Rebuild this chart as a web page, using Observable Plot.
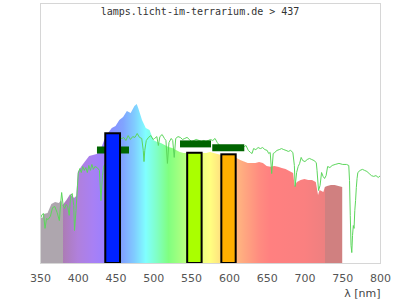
<!DOCTYPE html>
<html><head><meta charset="utf-8">
<script src="https://cdn.jsdelivr.net/npm/d3@7"></script>
<script src="https://cdn.jsdelivr.net/npm/@observablehq/plot@0.6"></script>
<style>
html,body{margin:0;padding:0;background:#fff;}
#wrap{position:relative;width:400px;height:300px;overflow:hidden;}
#title{position:absolute;top:6px;left:0;width:400px;text-align:center;font-family:"DejaVu Sans Mono",monospace;font-size:10px;line-height:12px;color:#333;z-index:2;}
</style></head><body>
<div id="wrap"><div id="title">lamps.licht-im-terrarium.de &gt; 437</div></div>
<script>
// Lamp spectrum (relative intensity, 0-100)
const specNm = [350,353,355,360,365,370,375,378,380,385,390,395,398,400,405,410,415,420,425,430,435,440,445,450,455,460,465,470,475,478,480,485,490,495,500,505,510,515,520,525,530,535,540,545,550,555,560,565,570,575,580,585,590,595,600,605,610,615,620,625,630,635,640,645,650,655,660,665,670,675,680,685,687,690,695,700,705,710,715,718,720,725,727,730,735,740,745,750];
const specVal = [17.3,17.3,18.8,19.2,22.7,23.5,23.1,24.2,22.3,24.2,26.5,25.0,25.8,35.0,37.3,39.2,41.2,41.5,41.9,43.5,47.3,50.0,51.9,52.7,55.0,56.2,58.5,57.7,60.4,61.2,59.6,55.0,51.9,51.2,47.3,46.5,46.2,45.4,44.6,44.2,43.5,42.7,42.3,42.3,42.3,42.3,42.3,42.3,42.3,42.7,42.3,41.9,41.5,41.2,40.8,40.8,40.4,39.6,39.0,38.5,38.5,38.5,38.8,38.5,37.3,37.0,37.3,37.0,36.5,36.2,35.4,34.6,29.6,31.2,31.9,32.3,31.9,31.9,31.2,26.2,28.1,27.3,29.2,29.6,30.0,30.0,29.6,29.2];

// Sunlight reference spectrum (green line)
const sunNm = [350,352,354,356,358,360,363,366,369,372,375,377,378,380,382,384,386,388,390,392,394,395,397,399,400,402,404,406,408,410,412,414,416,418,420,422,425,428,430,432,434,436,440,445,450,455,458,460,463,466,469,472,475,478,481,484,486,487,488,490,493,496,499,501,504,506,508,511,514,516,518,520,523,525,527,529,532,535,538,541,544,547,550,553,556,560,563,566,569,572,575,578,581,584,587,590,600,610,620,622,625,628,630,632,635,638,641,644,647,650,652,654,656,658,660,663,666,669,672,675,678,681,684,686,687,689,691,693,695,697,700,703,706,709,712,715,716,718,720,722,724,726,728,730,733,736,740,745,750,755,758,759,760,761,762,763,764,765,766,767,768,769,770,773,776,779,782,785,788,791,794,797,800];
const sunVal = [17.3,18.8,19.2,13.5,17.3,16.9,18.1,21.5,21.9,19.6,16.5,24.2,27.3,22.3,21.2,22.7,21.9,18.5,26.2,26.9,22.3,12.7,20.4,30.0,34.6,36.5,35.0,37.3,35.8,36.9,35.0,37.7,35.8,38.1,36.2,37.3,36.9,35.8,24.2,33.8,37.7,38.1,43.5,45.4,47.3,48.1,48.1,48.5,47.3,49.2,47.7,48.8,48.5,50.0,48.5,48.1,43.5,39.2,43.5,47.3,48.5,49.2,47.7,48.1,48.8,45.4,48.8,49.6,48.1,47.3,38.5,46.5,48.1,47.3,40.8,48.1,48.8,48.5,47.7,48.1,48.5,47.7,46.9,47.3,47.7,47.3,46.9,47.3,46.9,47.3,47.7,47.3,48.1,46.5,45.4,45.0,44.6,44.2,45.0,45.4,43.5,42.7,42.3,44.2,43.8,44.6,44.2,44.6,43.8,43.5,42.3,42.7,34.6,42.3,42.7,43.5,43.8,44.2,43.8,43.5,43.1,43.5,42.7,37.7,29.6,35.0,37.3,38.5,40.8,39.6,39.2,40.0,40.4,40.0,39.6,38.8,35.8,28.1,30.0,35.0,33.5,32.7,33.8,37.3,36.9,37.7,38.1,38.5,38.1,38.1,37.7,31.9,18.5,6.9,4.2,10.8,14.6,13.5,20.4,24.2,29.2,32.7,35.0,35.8,36.2,35.8,35.4,34.6,33.8,33.5,33.8,33.1,33.8];

// LED bars
const lampX1 = [436.4, 544.8, 590];
const lampX2 = [455.9, 563.9, 609];
const lampVal = [49.9, 42.4, 41.8];
const lampColors = ["#0022ff", "#aaff00", "#ffb000"];

// Range markers (dark green)
const rangeX1 = [425.4, 535.3, 578];
const rangeX2 = [467.8, 576.3, 620.4];
const rangeVal = [43.7, 46.0, 44.5];

// Colour of the spectrum by wavelength
const gradNm = [350, 379.9, 380, 400, 420, 435, 445, 460, 475, 490, 505, 520, 535, 550, 565, 575, 590, 605, 620, 640, 655, 700, 726.9, 727, 751];
const gradColors = ["#aea6ae","#aea6ae","#ac7cb4","#b080dc","#a880f4","#9c80ff","#8890ff","#80a4ff","#80ccff","#80ffff","#80ffc4","#80ff80","#a4ff80","#c8ff80","#eeff80","#ffff80","#ffe080","#ffc080","#ffa880","#ff8c80","#ff8080","#fa8080","#ee8080","#d08080","#d08080"];

const xTicks = [350,400,450,500,550,600,650,700,750,800];

const spectrum = specNm.map((n,i)=>({nm:n, v:specVal[i]}));
const sun = sunNm.map((n,i)=>({nm:n, v:sunVal[i]}));
const lamps = lampX1.map((a,i)=>({x1:a, x2:lampX2[i], v:lampVal[i], color:lampColors[i]}));
const ranges = rangeX1.map((a,i)=>({x1:a, x2:rangeX2[i], v:rangeVal[i]}));

const chart = Plot.plot({
  width: 400, height: 300,
  marginLeft: 40, marginRight: 20, marginTop: 3, marginBottom: 37,
  style: {fontFamily: "DejaVu Sans", fontSize: "11px", color: "#555", background: "transparent"},
  x: {domain: [350, 800], ticks: xTicks, tickSize: 0, tickPadding: 11, label: null},
  y: {domain: [0, 100], axis: null},
  color: {type: "identity"},
  marks: [
    Plot.areaY(spectrum, {x: "nm", y: "v", fill: "url(#specGrad)"}),
    Plot.line(sun, {x: "nm", y: "v", stroke: "#5cd65c", strokeWidth: 1}),
    Plot.ruleY(ranges, {x1: "x1", x2: "x2", y: "v", stroke: "#006400", strokeWidth: 7}),
    Plot.rectY(lamps, {x1: "x1", x2: "x2", y: "v", fill: "color", stroke: "#000", strokeWidth: 2}),
    Plot.frame({stroke: "#d6d6d6"}),
    Plot.text(["λ [nm]"], {text: d => d, frameAnchor: "bottom-right", dy: 33, textAnchor: "end", fill: "#444", fontSize: 11})
  ]
});

const xs = chart.scale("x");
const ns = "http://www.w3.org/2000/svg";
const defs = document.createElementNS(ns, "defs");
const grad = document.createElementNS(ns, "linearGradient");
grad.setAttribute("id", "specGrad");
grad.setAttribute("gradientUnits", "userSpaceOnUse");
const gx1 = xs.apply(gradNm[0]), gx2 = xs.apply(gradNm[gradNm.length - 1]);
grad.setAttribute("x1", gx1); grad.setAttribute("x2", gx2);
grad.setAttribute("y1", 0); grad.setAttribute("y2", 0);
gradNm.forEach((n, i) => {
  const s = document.createElementNS(ns, "stop");
  s.setAttribute("offset", (xs.apply(n) - gx1) / (gx2 - gx1));
  s.setAttribute("stop-color", gradColors[i]);
  grad.appendChild(s);
});
defs.appendChild(grad);
chart.insertBefore(defs, chart.firstChild);
document.getElementById("wrap").appendChild(chart);
</script>
</body></html>
